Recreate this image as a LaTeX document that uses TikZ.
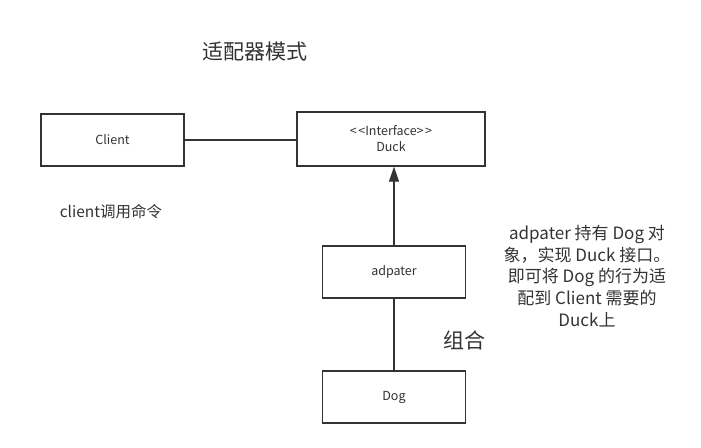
\documentclass[tikz,border=0pt]{standalone}
\usepackage{fontspec}
\setmainfont{Noto Sans CJK SC}
\usetikzlibrary{arrows.meta}
\definecolor{ink}{HTML}{333333}
\tikzset{
  box/.style={draw=ink, line width=1.4pt, fill=white, minimum width=143pt, minimum height=52pt, inner sep=0pt, text=ink, font=\fontsize{12.5}{16}\selectfont, align=center},
  conn/.style={draw=ink, line width=1.4pt},
  lbl/.style={text=ink, inner sep=0pt, align=center}
}
\begin{document}
\begin{tikzpicture}[x=1pt,y=-1pt]
\useasboundingbox (0,0) rectangle (701,447);
\node[box] (client) at (112.5,140) {Client};
\node[box, minimum width=188pt, minimum height=54pt] (duck) at (391,139) {<\kern1.5pt<Interface>\kern1.5pt>\\Duck};
\node[box] (adp) at (394,272) {adpater};
\node[box] (dog) at (394,397) {Dog};
\draw[conn] (client) -- (client -| duck.west);
\draw[conn, -{Triangle[length=15pt,width=10pt]}] (adp.north) -- (adp.north |- duck.south);
\draw[conn] (dog.north) -- (adp.south);
\node[lbl, font=\fontsize{21}{24}\selectfont] (title) at (255,52) {适配器模式};
\node[lbl, font=\fontsize{15.5}{18}\selectfont] (cmd) at (111,212) {client调用命令};
\node[lbl, font=\fontsize{21}{24}\selectfont] (zuhe) at (464,340) {组合};
\node[lbl, font=\fontsize{17}{21.6}\selectfont] (note) at (587,276) {adpater 持有 Dog 对\\象，实现 Duck 接口。\\即可将 Dog 的行为适\\配到 Client 需要的\\Duck上};
\end{tikzpicture}
\end{document}
